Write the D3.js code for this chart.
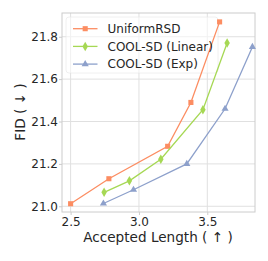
<!DOCTYPE html>
<html><head><meta charset="utf-8">
<script src="https://cdn.jsdelivr.net/npm/d3@7"></script>
<style>body{margin:0;background:#fff}svg{display:block}text{font-family:"DejaVu Sans",sans-serif;fill:#262626}</style>
</head><body><svg id="c" width="268" height="261"></svg>
<script>
const seriesNames = ["UniformRSD", "COOL-SD (Linear)", "COOL-SD (Exp)"];
const uniformX = [2.50, 2.78, 3.21, 3.38, 3.59];
const uniformY = [21.012, 21.13, 21.283, 21.49, 21.87];
const linearX = [2.745, 2.93, 3.16, 3.468, 3.645];
const linearY = [21.066, 21.12, 21.222, 21.456, 21.77];
const expX = [2.74, 2.96, 3.35, 3.63, 3.83];
const expY = [21.013, 21.078, 21.2, 21.46, 21.752];
const xTicks = [2.5, 3.0, 3.5];
const yTicks = [21.0, 21.2, 21.4, 21.6, 21.8];
const colors = ["#fc8d62", "#a6d854", "#8da0cb"];
const markers = [d3.symbolSquare, d3.symbolDiamond, d3.symbolTriangle];
const markerSizes = [26, 26, 22];

const svg = d3.select("#c");
const L = 62, R = 255, T = 13, B = 212;
const x = d3.scaleLinear().domain([2.437, 3.849]).range([L, R]);
const y = d3.scaleLinear().domain([20.973, 21.912]).range([B, T]);

// grid
const g = svg.append("g");
g.selectAll(".gx").data(xTicks).join("line").attr("x1", d => x(d)).attr("x2", d => x(d))
  .attr("y1", T).attr("y2", B).attr("stroke", "#e0e0e0").attr("stroke-width", 1);
g.selectAll(".gy").data(yTicks).join("line").attr("y1", d => y(d)).attr("y2", d => y(d))
  .attr("x1", L).attr("x2", R).attr("stroke", "#e0e0e0").attr("stroke-width", 1);

// axes
const xAxis = d3.axisBottom(x).tickValues(xTicks).tickFormat(d3.format(".1f")).tickSize(3).tickPadding(2);
const yAxis = d3.axisLeft(y).tickValues(yTicks).tickFormat(d3.format(".1f")).tickSize(3).tickPadding(2);
const gx = svg.append("g").attr("transform", `translate(0,${B})`).call(xAxis);
const gy = svg.append("g").attr("transform", `translate(${L},0)`).call(yAxis);
[gx, gy].forEach(a => {
  a.select(".domain").remove();
  a.selectAll(".tick line").attr("stroke", "#cccccc");
  a.selectAll(".tick text").attr("font-size", 12).attr("fill", "#262626").style("font-family", "DejaVu Sans");
});
gy.selectAll(".tick text").attr("x", -4);
// frame
svg.append("rect").attr("x", L).attr("y", T).attr("width", R - L).attr("height", B - T)
  .attr("fill", "none").attr("stroke", "#cccccc").attr("stroke-width", 1);

// legend background
const lg = svg.append("g");
lg.append("rect").attr("x", 66).attr("y", 17).attr("width", 152).attr("height", 56).attr("rx", 3)
  .attr("fill", "#fff").attr("fill-opacity", 0.55).attr("stroke", "#e6e6e6").attr("stroke-opacity", 0.6);

// series
const data = [[uniformX, uniformY], [linearX, linearY], [expX, expY]];
const line = d3.line().x(d => x(d[0])).y(d => y(d[1]));
data.forEach(([xs, ys], i) => {
  const pts = xs.map((v, j) => [v, ys[j]]);
  svg.append("path").datum(pts).attr("d", line).attr("fill", "none")
    .attr("stroke", colors[i]).attr("stroke-width", 1.3);
  svg.selectAll(null).data(pts).join("path")
    .attr("d", d3.symbol().type(markers[i]).size(markerSizes[i]))
    .attr("transform", d => `translate(${x(d[0])},${y(d[1])})`)
    .attr("fill", colors[i]);
});

// legend entries
const le = svg.append("g");
seriesNames.forEach((name, i) => {
  const yy = 28.7 + i * 17.7;
  le.append("line").attr("x1", 73).attr("x2", 97.5).attr("y1", yy).attr("y2", yy)
    .attr("stroke", colors[i]).attr("stroke-width", 1.3);
  le.append("path").attr("d", d3.symbol().type(markers[i]).size(markerSizes[i]))
    .attr("transform", `translate(85.2,${yy})`).attr("fill", colors[i]);
  le.append("text").attr("x", 107.5).attr("y", yy + 4.3).attr("font-size", 12).text(name);
});

// axis labels
svg.append("text").attr("x", 158).attr("y", 241.5).attr("text-anchor", "middle").attr("font-size", 13.6)
  .text("Accepted Length ( \u2191 )");
svg.append("text").attr("transform", "translate(24.5,112) rotate(-90)").attr("text-anchor", "middle").attr("font-size", 13.6)
  .text("FID ( \u2193 )");
</script></body></html>
